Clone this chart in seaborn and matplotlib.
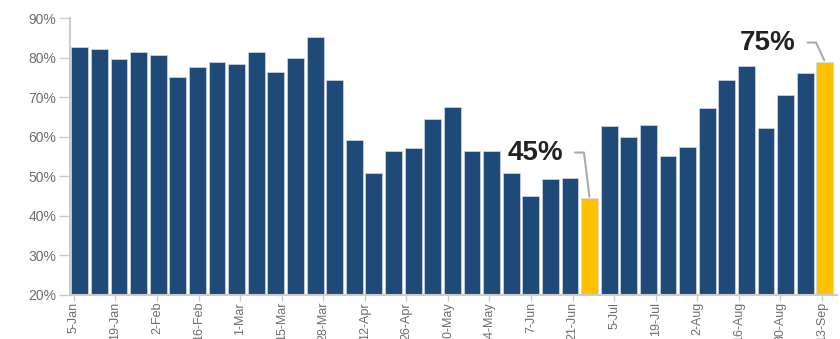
import numpy as np
import pandas as pd
import matplotlib
matplotlib.use("Agg")
import matplotlib.pyplot as plt
import seaborn as sns

# ---- data ----
values = [82.6, 82.2, 79.7, 81.5, 80.7, 75.1, 77.7, 78.9, 78.4, 81.5,
          76.4, 80.0, 85.1, 74.4, 59.1, 50.8, 56.3, 57.1, 64.5, 67.6,
          56.3, 56.3, 50.8, 44.9, 49.3, 49.5, 44.5, 62.8, 60.0, 63.0,
          55.2, 57.4, 67.3, 74.4, 77.8, 62.2, 70.6, 76.2, 79.0]
highlight = [26, 38]
tick_labels = ["5-Jan", "19-Jan", "2-Feb", "16-Feb", "1-Mar", "15-Mar", "28-Mar",
               "12-Apr", "26-Apr", "10-May", "24-May", "7-Jun", "21-Jun", "5-Jul",
               "19-Jul", "2-Aug", "16-Aug", "30-Aug", "13-Sep"]
annot_text = ["45%", "75%"]

BLUE = "#1f4a78"
GOLD = "#ffc000"

sns.set_theme(style="white")
plt.rcParams["font.family"] = ["Liberation Sans Narrow", "Liberation Sans", "DejaVu Sans"]

df = pd.DataFrame({"idx": np.arange(len(values)), "val": values})
df["grp"] = ["hi" if i in highlight else "base" for i in df["idx"]]

fig = plt.figure(figsize=(8.4, 3.39), dpi=100)
ax = fig.add_axes([0.0833, 0.1298, 0.9127, 0.8171])

sns.barplot(data=df, x="idx", y="val", hue="grp", palette={"base": BLUE, "hi": GOLD},
            dodge=False, width=0.86, legend=False, ax=ax, saturation=1,
            edgecolor="#d0dae6", linewidth=0.5)

ax.set_ylim(20, 90)
ax.set_xlim(-0.5, len(values) - 0.4)
ax.set_yticks(np.arange(20, 91, 10))
ax.set_yticklabels([f"{v}%" for v in range(20, 91, 10)])
tick_pos = np.linspace(-0.3, len(values) - 1.15, len(tick_labels))
ax.set_xticks(tick_pos)
ax.set_xticklabels(tick_labels, rotation=90)
ax.set_xlabel("")
ax.set_ylabel("")

for s in ["top", "right"]:
    ax.spines[s].set_visible(False)
for s in ["left", "bottom"]:
    ax.spines[s].set_color("#cccccc")
    ax.spines[s].set_linewidth(1.5)

ax.tick_params(axis="y", which="major", left=True, length=8, width=1, color="#cccccc",
               labelsize=10, labelcolor="#6e6e6e", pad=2)
ax.tick_params(axis="x", which="major", bottom=True, length=4, width=1, color="#cccccc",
               labelsize=9, labelcolor="#6e6e6e", pad=1)

# annotations
text_pos = [(23.25, 56.0), (35.1, 83.8)]
angles = [97, 115]
for k, i in enumerate(highlight):
    ax.annotate(annot_text[k], xy=(i, values[i]), xytext=text_pos[k],
                textcoords="data", ha="center", va="center",
                fontsize=20, fontweight="bold", color="#222222",
                family=["Liberation Sans", "DejaVu Sans"],
                arrowprops=dict(arrowstyle="-", color="#aaaaaa", lw=1.5,
                                connectionstyle=f"angle,angleA=0,angleB={angles[k]},rad=0",
                                relpos=(1, 0.5), shrinkA=6, shrinkB=1))

fig.savefig("out.png", dpi=100, facecolor="white")
